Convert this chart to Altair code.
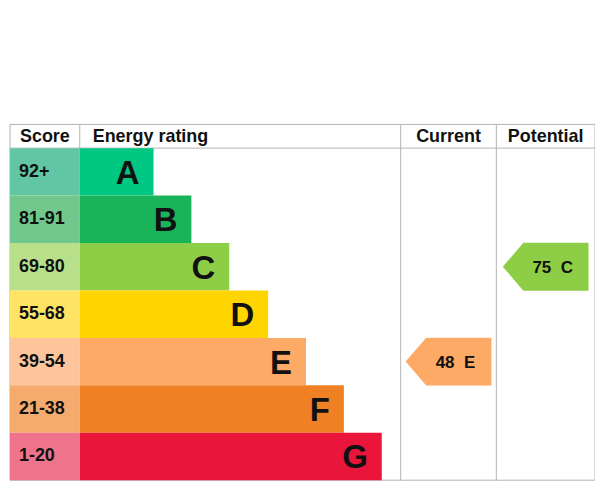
import altair as alt
import pandas as pd

# ---- data ----
ratings = ["A", "B", "C", "D", "E", "F", "G"]
score_ranges = ["92+", "81-91", "69-80", "55-68", "39-54", "21-38", "1-20"]
bar_ends = [144, 182, 220, 259, 297, 335, 373]          # bar right edge (x units)
bar_colors = ["#00c781", "#19b459", "#8dce46", "#ffd500", "#fcaa65", "#ef8023", "#e9153b"]
score_colors = ["#62c6a4", "#70c88c", "#b8df8a", "#ffe364", "#fdc59c", "#f5aa6e", "#f0738c"]

headers = ["Score", "Energy rating", "Current", "Potential"]
col_edges = [0, 70, 392, 488, 587]                       # column boundaries (x units)

current_score, current_rating = 48, "E"
potential_score, potential_rating = 75, "C"

# ---- tables ----
n = len(ratings)
rows = pd.DataFrame({
    "rating": ratings,
    "range": score_ranges,
    "end": bar_ends,
    "bar_color": bar_colors,
    "score_color": score_colors,
    "top": [i + 0.5 for i in range(n)],
    "bottom": [i + 1.5 for i in range(n)],
    "mid": [i + 1.0 for i in range(n)],
    "left": [col_edges[0]] * n,
    "start": [col_edges[1]] * n,
})

centers = [(col_edges[i] + col_edges[i + 1]) / 2 for i in range(4)]
hdr_center = pd.DataFrame({"text": [headers[0], headers[2], headers[3]],
                           "x": [centers[0], centers[2], centers[3]], "y": [0.25] * 3})
hdr_left = pd.DataFrame({"text": [headers[1]], "x": [col_edges[1]], "y": [0.25]})

total_h = n + 0.5
vrules = pd.DataFrame({"x": [col_edges[0], col_edges[2], col_edges[3], col_edges[4], col_edges[1]],
                       "y": [0, 0, 0, 0, 0], "y2": [total_h] * 4 + [0.5]})
hrules = pd.DataFrame({"y": [0, 0.5, total_h], "x": [col_edges[0]] * 3, "x2": [col_edges[4]] * 3})

def row_mid(r):
    return ratings.index(r) + 1.0

arrows = pd.DataFrame({
    "x": [centers[2], centers[3]],
    "y": [row_mid(current_rating), row_mid(potential_rating)],
    "label": [f"{current_score}\u00a0\u00a0{current_rating}", f"{potential_score}\u00a0\u00a0{potential_rating}"],
    "color": [bar_colors[ratings.index(current_rating)], bar_colors[ratings.index(potential_rating)]],
})

# ---- scales ----
XS = alt.Scale(domain=[col_edges[0], col_edges[-1]], nice=False, zero=False)
YS = alt.Scale(domain=[0, total_h], nice=False, zero=False, reverse=True)
FONT = "Liberation Sans"

def X(f):
    return alt.X(f, type="quantitative", scale=XS, axis=None)

def Y(f):
    return alt.Y(f, type="quantitative", scale=YS, axis=None)

grid_v = alt.Chart(vrules).mark_rule(color="#b4b4b4", strokeWidth=1).encode(
    x=X("x"), y=Y("y"), y2="y2")
grid_h = alt.Chart(hrules).mark_rule(color="#b4b4b4", strokeWidth=1).encode(
    y=Y("y"), x=X("x"), x2="x2")

score_cells = alt.Chart(rows).mark_rect().encode(
    x=X("left"), x2="start", y=Y("top"), y2="bottom",
    color=alt.Color("score_color:N", scale=None))
bars = alt.Chart(rows).mark_rect().encode(
    x=X("start"), x2="end", y=Y("top"), y2="bottom",
    color=alt.Color("bar_color:N", scale=None))

letters = alt.Chart(rows).mark_text(
    align="right", baseline="middle", dx=-14, dy=2, fontSize=33, fontWeight="bold",
    font=FONT, color="#111111").encode(x=X("end"), y=Y("mid"), text="rating:N")
ranges = alt.Chart(rows).mark_text(
    align="left", baseline="middle", dx=9, dy=0, fontSize=18, fontWeight="bold",
    font=FONT, color="#111111").encode(x=X("left"), y=Y("mid"), text="range:N")

h1 = alt.Chart(hdr_center).mark_text(
    align="center", baseline="middle", dy=1, fontSize=18, fontWeight="bold",
    font=FONT, color="#111111").encode(x=X("x"), y=Y("y"), text="text:N")
h2 = alt.Chart(hdr_left).mark_text(
    align="left", baseline="middle", dx=13, dy=1, fontSize=18, fontWeight="bold",
    font=FONT, color="#111111").encode(x=X("x"), y=Y("y"), text="text:N")

arrow_shape = "M-1,0L-0.52,-0.558L1,-0.558L1,0.558L-0.52,0.558Z"
arrow_marks = alt.Chart(arrows).mark_point(
    shape=arrow_shape, size=86 * 86, filled=True, opacity=1, strokeWidth=0).encode(
    x=X("x"), y=Y("y"), color=alt.Color("color:N", scale=None))
arrow_text = alt.Chart(arrows).mark_text(
    align="center", baseline="middle", dx=7, dy=1, fontSize=17, fontWeight="bold",
    font=FONT, color="#111111").encode(x=X("x"), y=Y("y"), text="label:N")

chart = alt.layer(
    grid_v, grid_h, score_cells, bars, letters, ranges, h1, h2, arrow_marks, arrow_text
).properties(
    width=587, height=357,
    autosize=alt.AutoSizeParams(type="none"),
    padding={"left": 2, "top": 116, "right": 0, "bottom": 2},
).configure_view(strokeWidth=0)

chart.save("out.html", embed_options={"renderer": "svg", "actions": False})
